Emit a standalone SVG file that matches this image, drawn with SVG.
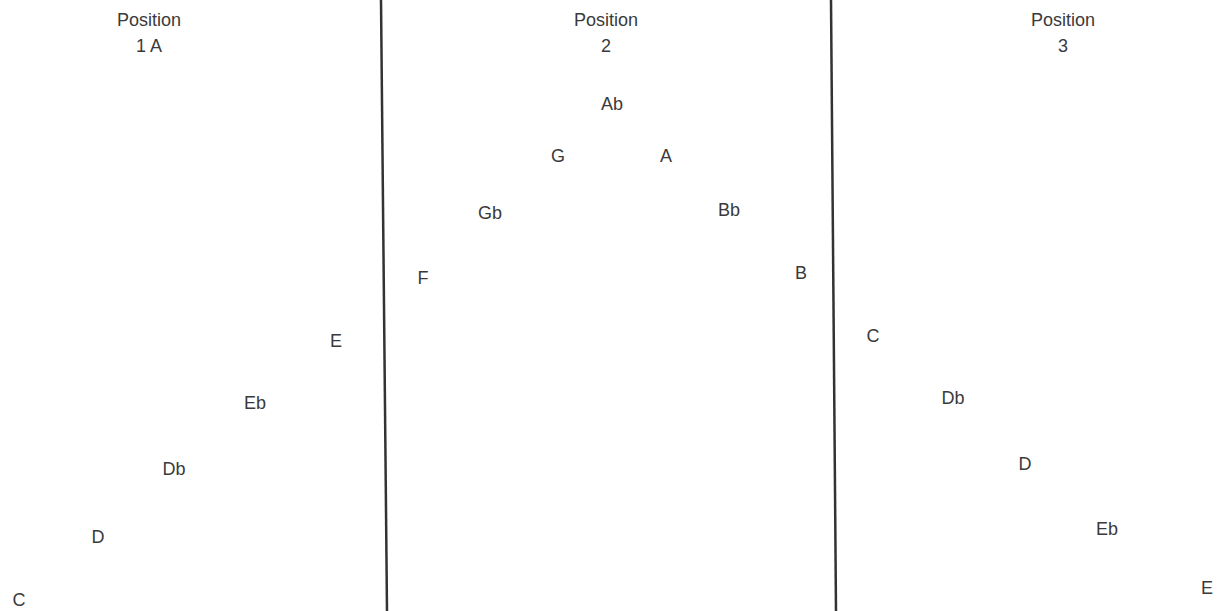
<svg xmlns="http://www.w3.org/2000/svg" width="1224" height="611" viewBox="0 0 1224 611">
<style>
text{font-family:"Liberation Sans",Arial,sans-serif;font-size:18px;fill:#3a3a3a;text-anchor:middle}
.div{stroke:#333;stroke-width:2.5;fill:none}
</style>
<rect width="1224" height="611" fill="#fff"/>
<g id="dividers">
<line class="div" x1="381" y1="0" x2="387" y2="611"/>
<line class="div" x1="831" y1="0" x2="836" y2="611"/>
</g>
<g id="headers">
<text x="149" y="26">Position</text><text x="149" y="52">1 A</text>
<text x="606" y="26">Position</text><text x="606" y="52">2</text>
<text x="1063" y="26">Position</text><text x="1063" y="52">3</text>
</g>
<g id="pos1">
<text x="336" y="347">E</text>
<text x="255" y="409">Eb</text>
<text x="174" y="475">Db</text>
<text x="98" y="543">D</text>
<text x="19" y="606">C</text>
</g>
<g id="pos2">
<text x="612" y="110">Ab</text>
<text x="558" y="162">G</text>
<text x="666" y="162">A</text>
<text x="490" y="219">Gb</text>
<text x="729" y="216">Bb</text>
<text x="423" y="284">F</text>
<text x="801" y="279">B</text>
</g>
<g id="pos3">
<text x="873" y="342">C</text>
<text x="953" y="404">Db</text>
<text x="1025" y="470">D</text>
<text x="1107" y="535">Eb</text>
<text x="1207" y="594">E</text>
</g>
</svg>
